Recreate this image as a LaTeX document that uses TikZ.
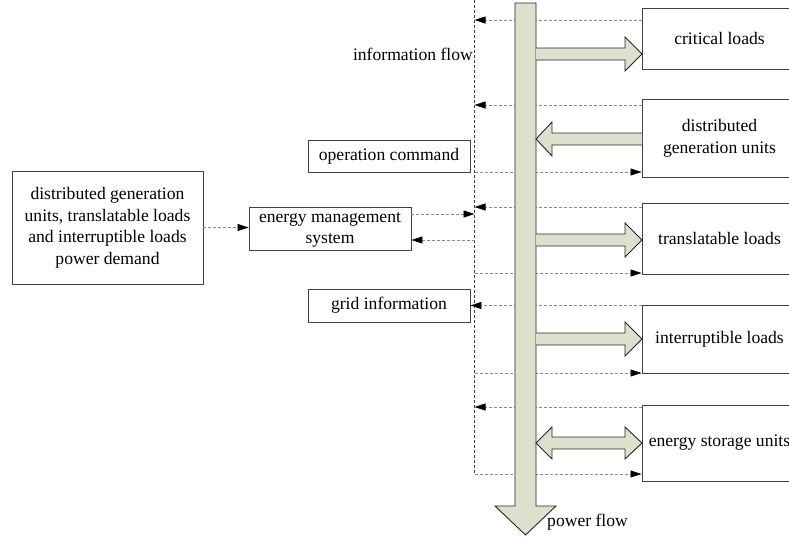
\documentclass[tikz,border=0pt]{standalone}
\usepackage{fontspec}
\setmainfont{Liberation Serif}
\usetikzlibrary{arrows.meta,calc}
\definecolor{pfill}{RGB}{221,224,204}
\newcommand\prarrow[1]{\filldraw[pwr] (536,#1-6) -- (625,#1-6) -- (625,#1-17) -- (642,#1) -- (625,#1+17) -- (625,#1+6) -- (536,#1+6);}
\newcommand\plarrow[1]{\filldraw[pwr] (642,#1-6) -- (552,#1-6) -- (552,#1-17) -- (536,#1) -- (552,#1+17) -- (552,#1+6) -- (642,#1+6);}
\newcommand\pdarrow[1]{\filldraw[pwr] (552,#1-6) -- (625,#1-6) -- (625,#1-16) -- (642,#1) -- (625,#1+16) -- (625,#1+6) -- (552,#1+6) -- (552,#1+16) -- (536,#1) -- (552,#1-16) -- cycle;}
\newcommand\mlines[1]{{\setbox\strutbox\hbox{\vrule height15pt depth6.5pt width0pt}\begin{tabular}{@{}c@{}}#1\end{tabular}}}
\begin{document}
\begin{tikzpicture}[x=1pt,y=-1pt,
  txt/.style={font=\fontsize{17.6}{21.5}\selectfont},
  box/.style={txt,draw=black!75,line width=0.9pt,align=center,inner sep=0pt},
  rbox/.style={box,minimum width=155pt},
  lbox/.style={box,minimum width=162pt},
  info/.style={draw=black!45,line width=0.6pt,dash pattern=on 3pt off 2pt,-{Triangle[length=11pt,width=7pt,color=black]}},
  vline/.style={draw=black!75,line width=0.6pt,dash pattern=on 3pt off 2pt},
  pwr/.style={fill=pfill,draw=black!85,line width=0.9pt,line join=miter}
]
\useasboundingbox (0,0) rectangle (789,539);
\clip (0,0) rectangle (789,539);

% right boxes
\node[rbox,minimum height=61pt] (b1) at (719.5,38.5) {critical loads};
\node[rbox,minimum height=78pt] (b2) at (719.5,138) {\mlines{distributed\\generation units}};
\node[rbox,minimum height=71pt] (b3) at (719.5,238.5) {translatable loads};
\node[rbox,minimum height=68pt] (b4) at (719.5,339) {interruptible loads};
\node[rbox,minimum height=76pt] (b5) at (719.5,443) {energy storage units};

% left boxes
\node[box,minimum width=191pt,minimum height=113pt] (lb) at (107.5,227.5)
  {\mlines{distributed generation\\units, translatable loads\\and interruptible loads\\power demand}};
\node[lbox,minimum height=43pt] (ems) at (330,228.5) {\mlines{energy management\\system}};
\node[lbox,minimum height=32pt] (oc) at (389,156) {operation command};
\node[lbox,minimum height=33pt] (gi) at (389,305.5) {grid information};

% information bus
\coordinate (vt) at (474.5,0);
\coordinate (vb) at (474.5,474);
\foreach \y in {20,105,172,207,214,240,273,373,407}
  \coordinate (v\y) at (474.5,\y);
\draw[vline] (vt) -- (vb);

\draw[info] (b1.west|-v20) -- (v20);
\draw[info] (b2.west|-v105) -- (v105);
\draw[info] (v172) -- (b2.west|-v172);
\draw[info] (b3.west|-v207) -- (v207);
\draw[info] (ems.east|-v214) -- (v214);
\draw[info] (v240) -- (ems.east|-v240);
\draw[info] (lb.east) -- (lb.east-|ems.west);
\draw[info] (v273) -- (b3.west|-v273);
\draw[info] (b4.west|-gi.east) -- (gi.east);
\draw[info] (v373) -- (b4.west|-v373);
\draw[info] (b5.west|-v407) -- (v407);
\draw[info] (vb) -- (b5.west|-vb);

% power bus
\filldraw[pwr] (515,3) -- (536,3) -- (536,506) -- (556,506) -- (525.5,535) -- (495,506) -- (515,506) -- cycle;
\prarrow{54}
\plarrow{139}
\prarrow{240}
\prarrow{339}
\pdarrow{443}

% labels
\node[txt,anchor=east,inner sep=0pt] (iflow) at (473,54) {information flow};
\node[txt,anchor=west,inner sep=0pt] (pflow) at (547,522) {power flow};
\end{tikzpicture}
\end{document}
